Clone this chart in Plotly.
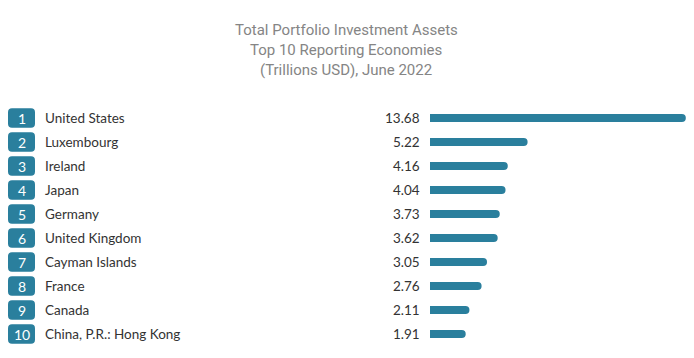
import plotly.graph_objects as go

countries = ["United States", "Luxembourg", "Ireland", "Japan", "Germany",
             "United Kingdom", "Cayman Islands", "France", "Canada",
             "China, P.R.: Hong Kong"]
values = [13.68, 5.22, 4.16, 4.04, 3.73, 3.62, 3.05, 2.76, 2.11, 1.91]
ranks = [str(i + 1) for i in range(len(countries))]
title_lines = ["Total Portfolio Investment Assets",
               "Top 10 Reporting Economies",
               "(Trillions USD), June 2022"]

# the page body adds an 8px margin, so the figure is 8px smaller on each axis
W, H = 686, 350
T, B = 98, 12
BAR_COLOR = "#2a7f9d"
FONT = "Lato, 'Open Sans', sans-serif"
BAR_X0 = 422        # pixel where value bars start
PX_PER_UNIT = 18.7  # pixel per trillion

fig = go.Figure()

# rank badges (on a pixel-scaled helper axis)
fig.add_trace(go.Bar(
    y=countries, x=[27] * len(countries), base=[0] * len(countries),
    orientation="h", xaxis="x2", yaxis="y",
    width=0.82, marker=dict(color=BAR_COLOR, cornerradius=4, line=dict(width=0)),
    hoverinfo="skip", showlegend=False,
))

# value bars
fig.add_trace(go.Bar(
    y=countries, x=values, orientation="h", xaxis="x", yaxis="y",
    width=0.34, marker=dict(color=BAR_COLOR, cornerradius=4, line=dict(width=0)),
    hoverinfo="skip", showlegend=False,
))

annotations = []
for r, c, v in zip(ranks, countries, values):
    annotations.append(dict(
        x=13.5, xref="x2", y=c, yref="y", text=r, showarrow=False,
        xanchor="center", yanchor="middle",
        font=dict(size=14, color="white", family=FONT)))
    annotations.append(dict(
        x=34.5, xref="x2", y=c, yref="y", text=c, showarrow=False,
        xanchor="left", yanchor="middle",
        font=dict(size=13.5, color="#333333", family=FONT)))
    annotations.append(dict(
        x=413.5, xref="x2", y=c, yref="y", text=f"{v:.2f}", showarrow=False,
        xanchor="right", yanchor="middle",
        font=dict(size=13.5, color="#333333", family=FONT)))

plot_h = H - T - B
title_y = [22, 42, 62]
for line, ty in zip(title_lines, title_y):
    annotations.append(dict(
        x=338 / W, xref="paper", y=(H - B - ty) / plot_h, yref="paper",
        text=line, showarrow=False, xanchor="center", yanchor="middle",
        font=dict(size=15, color="#858585", family="Roboto, sans-serif")))

main_dom = BAR_X0 / W
fig.update_layout(
    width=W, height=H,
    margin=dict(l=0, r=0, t=T, b=B),
    paper_bgcolor="white", plot_bgcolor="white",
    barmode="overlay",
    xaxis=dict(domain=[main_dom, 1], range=[0, (W - BAR_X0) / PX_PER_UNIT],
               visible=False, fixedrange=True),
    xaxis2=dict(domain=[0, main_dom], range=[0, BAR_X0],
                visible=False, fixedrange=True),
    yaxis=dict(categoryorder="array", categoryarray=countries,
               autorange="reversed", visible=False, fixedrange=True),
    annotations=annotations,
    showlegend=False,
)

fig.write_html("out.html")
